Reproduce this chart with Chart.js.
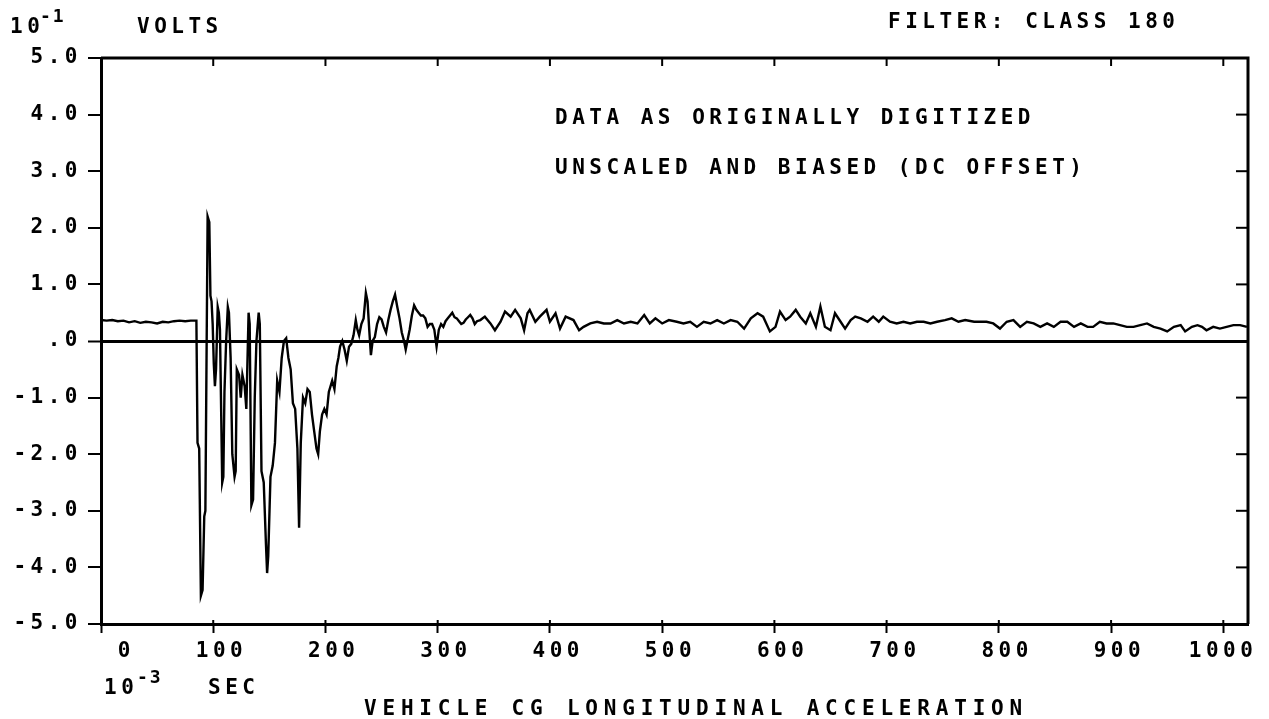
<!DOCTYPE html>
<html>
<head>
<meta charset="utf-8">
<script src="https://cdn.jsdelivr.net/npm/chart.js@4.4.1/dist/chart.umd.min.js"></script>
<style>
  html, body { margin: 0; padding: 0; background: #fff; }
  canvas { display: block; }
</style>
</head>
<body>
<canvas id="accelChart" width="1269" height="719"></canvas>
<script>
// time in 10^-3 sec, values in 10^-1 volts
const timeMs = [
  0, 5, 10, 15, 20, 25, 30, 35, 40, 45, 50, 55, 60, 65, 70, 75, 80, 85,
  86, 87.5, 89, 90.5, 92, 93, 95, 96.5, 97.5, 98.5, 99.5, 100.5, 101.5, 102.5, 104, 105, 106, 108, 109, 110, 111.5, 113, 114, 115.5, 117, 119, 120, 121, 123, 124.5, 126, 128, 129.5,
  131.5, 132.5, 134, 135.5, 137, 138.5, 140.5, 141.5, 143, 145, 147, 148, 149, 151, 153, 155, 157, 159, 161, 163, 165, 167, 169, 171, 173, 175, 176.5, 178, 180, 182, 184, 186, 188, 190, 192, 193.5, 195, 197, 199,
  201, 203, 206, 208, 210, 211.5, 213, 215, 217, 219, 221, 223, 225, 227, 228.5, 230, 232, 234, 236, 237.5, 239, 240.5, 242, 244, 246, 248, 250, 252, 254, 256, 258, 260, 262, 264, 266, 268, 270, 271.5, 273, 275, 277, 279,
  281, 283, 285, 287, 289, 291, 293, 295, 297, 299, 301, 303, 305, 307, 309, 311, 313, 315, 317, 319, 321, 323, 325, 327, 329, 331, 333, 335, 338,
  342, 347, 351, 356, 360, 365, 369, 374, 377, 380, 382, 387, 391, 397, 400, 405, 409, 414, 421, 426, 430, 436, 442, 448, 454, 460, 466, 472, 478, 484, 489, 494, 500,
  506, 513, 519, 525, 531, 537, 543, 549, 555, 561, 567, 573, 579, 585, 590, 596, 601, 605, 610, 614, 619, 623, 628, 632, 637, 641, 645, 650, 654, 659, 663, 668, 672, 677, 683,
  688, 693, 697, 703, 709, 715, 721, 727, 733, 739, 745, 752, 758, 764, 770, 778, 783, 789, 795, 801, 807, 813, 819, 825, 831, 837, 843, 849, 855, 861, 867, 873, 879, 884, 890, 896,
  902, 908, 914, 920, 926, 932, 938, 944, 950, 956, 962, 966, 972, 977, 981, 985, 991, 997, 1003, 1009, 1015, 1021
];
const volts = [
  0.37, 0.36, 0.37, 0.35, 0.36, 0.33, 0.35, 0.32, 0.34, 0.33, 0.31, 0.34, 0.33, 0.35, 0.36, 0.35, 0.36, 0.36,
  -1.8, -1.9, -4.5, -4.4, -3.1, -3.0, 2.2, 2.1, 0.8, 0.7, 0.3, -0.4, -0.8, -0.5, 0.6, 0.5, 0.2, -2.5, -2.4, -0.9, 0.0, 0.6, 0.5, -0.3, -2.0, -2.4, -2.3, -0.5, -0.6, -1.0, -0.6, -0.8, -1.2,
  0.5, 0.3, -2.9, -2.8, -1.0, 0.0, 0.5, 0.3, -2.3, -2.5, -3.6, -4.1, -3.8, -2.4, -2.2, -1.8, -0.7, -0.9, -0.3, 0.0, 0.05, -0.3, -0.5, -1.1, -1.2, -1.9, -3.3, -1.8, -1.0, -1.1, -0.85, -0.9, -1.3, -1.6, -1.9, -2.0, -1.6, -1.3, -1.2,
  -1.3, -0.9, -0.7, -0.85, -0.45, -0.3, -0.1, 0.0, -0.15, -0.35, -0.1, -0.05, 0.1, 0.37, 0.2, 0.1, 0.3, 0.4, 0.85, 0.7, 0.2, -0.25, 0.0, 0.07, 0.3, 0.42, 0.38, 0.25, 0.15, 0.37, 0.55, 0.7, 0.82, 0.6, 0.4, 0.15, 0.0, -0.15, 0.0, 0.2, 0.45, 0.63,
  0.55, 0.5, 0.45, 0.45, 0.4, 0.25, 0.3, 0.3, 0.2, -0.1, 0.2, 0.3, 0.25, 0.35, 0.4, 0.45, 0.5, 0.42, 0.4, 0.35, 0.3, 0.32, 0.38, 0.42, 0.46, 0.4, 0.3, 0.35, 0.37,
  0.43, 0.31, 0.19, 0.34, 0.52, 0.43, 0.55, 0.40, 0.19, 0.49, 0.55, 0.34, 0.43, 0.55, 0.34, 0.49, 0.22, 0.43, 0.37, 0.19, 0.25, 0.31, 0.34, 0.31, 0.31, 0.37, 0.31, 0.34, 0.31, 0.46, 0.31, 0.40, 0.31,
  0.37, 0.34, 0.31, 0.34, 0.25, 0.34, 0.31, 0.37, 0.31, 0.37, 0.34, 0.22, 0.40, 0.49, 0.43, 0.17, 0.25, 0.52, 0.37, 0.43, 0.55, 0.43, 0.31, 0.49, 0.25, 0.61, 0.25, 0.19, 0.49, 0.34, 0.22, 0.37, 0.43, 0.40, 0.34,
  0.43, 0.34, 0.43, 0.34, 0.31, 0.34, 0.31, 0.34, 0.34, 0.31, 0.34, 0.37, 0.40, 0.34, 0.37, 0.34, 0.34, 0.34, 0.31, 0.22, 0.34, 0.37, 0.25, 0.34, 0.31, 0.25, 0.31, 0.25, 0.34, 0.34, 0.25, 0.31, 0.25, 0.25, 0.34, 0.31,
  0.31, 0.28, 0.25, 0.25, 0.28, 0.31, 0.25, 0.22, 0.17, 0.25, 0.28, 0.17, 0.25, 0.28, 0.25, 0.19, 0.25, 0.22, 0.25, 0.28, 0.28, 0.25
];

const xTickStep = 100;
const yTickLabels = ["-5.0", "-4.0", "-3.0", "-2.0", "-1.0", ".0", "1.0", "2.0", "3.0", "4.0", "5.0"];

const FONT = "'DejaVu Sans Mono', monospace";
const INK = "#000";
const SPACING = 4.5;

const points = timeMs.map((t, i) => ({ x: t, y: volts[i] }));

// plotter style spacing for all canvas text
function setSpacing(ctx, px) {
  if ("letterSpacing" in ctx) ctx.letterSpacing = px + "px";
}

const plotterFrame = {
  id: "plotterFrame",
  beforeLayout(chart) { setSpacing(chart.ctx, SPACING); },
  beforeDraw(chart) { setSpacing(chart.ctx, SPACING); },
  afterDraw(chart) {
    const { ctx, chartArea: a, scales } = chart;
    ctx.save();
    ctx.strokeStyle = INK;
    ctx.lineWidth = 3;
    // top and right border
    ctx.beginPath();
    ctx.moveTo(a.left, a.top);
    ctx.lineTo(a.right, a.top);
    ctx.lineTo(a.right, a.bottom);
    ctx.stroke();

    // inward ticks on top, bottom and right
    ctx.lineWidth = 2;
    scales.x.ticks.forEach(t => {
      const px = scales.x.getPixelForValue(t.value);
      ctx.beginPath();
      ctx.moveTo(px, a.top);
      ctx.lineTo(px, a.top + 8);
      ctx.moveTo(px, a.bottom);
      ctx.lineTo(px, a.bottom - 4);
      ctx.stroke();
    });
    scales.y.ticks.forEach(t => {
      const py = scales.y.getPixelForValue(t.value);
      ctx.beginPath();
      ctx.moveTo(a.right, py);
      ctx.lineTo(a.right - 12, py);
      ctx.stroke();
    });

    // annotations
    ctx.fillStyle = INK;
    ctx.textBaseline = "alphabetic";
    ctx.textAlign = "left";
    ctx.font = "bold 21px " + FONT;
    setSpacing(ctx, SPACING);
    ctx.fillText("10", 10, 33);
    ctx.fillText("VOLTS", 137, 33);
    ctx.fillText("FILTER: CLASS 180", 888, 28);
    ctx.fillText("DATA AS ORIGINALLY DIGITIZED", 555, 124);
    ctx.fillText("UNSCALED AND BIASED (DC OFFSET)", 555, 174);
    ctx.fillText("10", 104, 694);
    ctx.fillText("SEC", 208, 694);
    setSpacing(ctx, 5.8);
    ctx.textAlign = "center";
    ctx.fillText("VEHICLE CG LONGITUDINAL ACCELERATION", 696, 715);
    ctx.textAlign = "left";
    ctx.font = "bold 18px " + FONT;
    setSpacing(ctx, 2);
    ctx.fillText("-1", 40, 22);
    ctx.fillText("-3", 137, 683);
    ctx.restore();
  }
};

const ctx = document.getElementById("accelChart").getContext("2d");

new Chart(ctx, {
  type: "line",
  data: {
    datasets: [{
      data: points,
      borderColor: INK,
      borderWidth: 2.4,
      pointRadius: 0,
      tension: 0,
      fill: false
    }]
  },
  options: {
    responsive: false,
    animation: false,
    events: [],
    layout: { padding: { top: 58, right: 21, bottom: 60, left: 0 } },
    plugins: {
      legend: { display: false },
      tooltip: { enabled: false }
    },
    scales: {
      x: {
        type: "linear",
        min: 0,
        max: 1022,
        afterFit: s => { s.height = 35; },
        border: { display: true, color: INK, width: 3 },
        grid: {
          drawOnChartArea: false,
          color: INK,
          tickLength: 9,
          tickWidth: 2
        },
        ticks: {
          stepSize: xTickStep,
          includeBounds: false,
          autoSkip: false,
          maxRotation: 0,
          align: "end",
          labelOffset: 34,
          padding: 6,
          color: INK,
          font: { family: FONT, size: 21, weight: "bold" },
          callback: v => String(v)
        }
      },
      y: {
        min: -5,
        max: 5,
        afterFit: s => { s.width = 101; },
        border: { display: true, color: INK, width: 3 },
        grid: {
          drawOnChartArea: true,
          color: c => (c.tick && c.tick.value === 0 ? INK : "rgba(0,0,0,0)"),
          lineWidth: c => (c.tick && c.tick.value === 0 ? 3 : 0),
          tickColor: INK,
          tickLength: 13,
          tickWidth: 2
        },
        ticks: {
          stepSize: 1,
          autoSkip: false,
          padding: 6,
          color: INK,
          font: { family: FONT, size: 21, weight: "bold" },
          callback: (v, i) => yTickLabels[i]
        }
      }
    }
  },
  plugins: [plotterFrame]
});
</script>
</body>
</html>
